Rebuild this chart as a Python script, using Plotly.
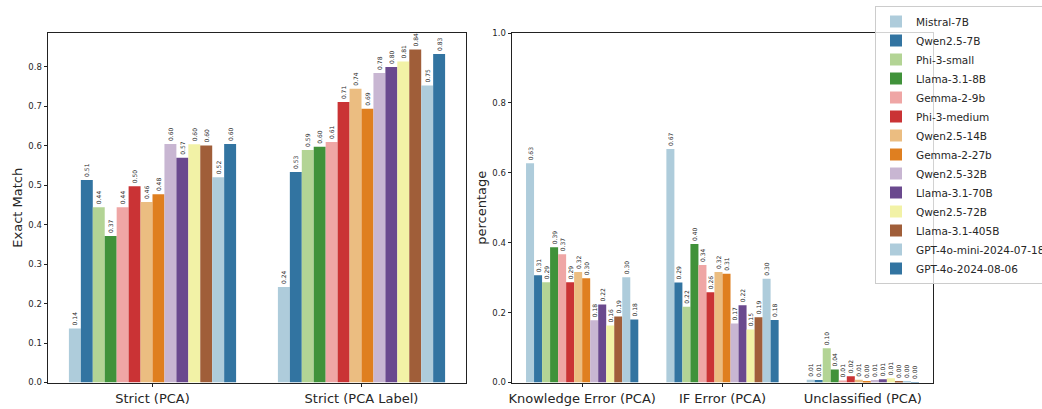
import colorsys
import plotly.graph_objects as go

# ---------------- data ----------------
models = [
    "Mistral-7B", "Qwen2.5-7B", "Phi-3-small", "Llama-3.1-8B", "Gemma-2-9b",
    "Phi-3-medium", "Qwen2.5-14B", "Gemma-2-27b", "Qwen2.5-32B", "Llama-3.1-70B",
    "Qwen2.5-72B", "Llama-3.1-405B", "GPT-4o-mini-2024-07-18", "GPT-4o-2024-08-06",
]
left_categories = ["Strict (PCA)", "Strict (PCA Label)"]
right_categories = ["Knowledge Error (PCA)", "IF Error (PCA)", "Unclassified (PCA)"]

strict_pca = [0.137, 0.513, 0.444, 0.371, 0.444, 0.497, 0.457, 0.477,
              0.604, 0.569, 0.603, 0.600, 0.520, 0.604]
strict_pca_label = [0.242, 0.533, 0.589, 0.597, 0.609, 0.710, 0.744, 0.693,
                    0.784, 0.799, 0.813, 0.843, 0.752, 0.832]
knowledge_error = [0.627, 0.307, 0.287, 0.387, 0.367, 0.287, 0.316, 0.298,
                   0.178, 0.223, 0.163, 0.189, 0.301, 0.180]
if_error = [0.668, 0.286, 0.217, 0.396, 0.336, 0.258, 0.316, 0.311,
            0.169, 0.221, 0.152, 0.187, 0.297, 0.179]
unclassified = [0.008, 0.007, 0.098, 0.037, 0.006, 0.018, 0.008, 0.003,
                0.007, 0.009, 0.012, 0.002, 0.002, 0.001]

left_ticks = [0.0, 0.1, 0.2, 0.3, 0.4, 0.5, 0.6, 0.7, 0.8]
right_ticks = [0.0, 0.2, 0.4, 0.6, 0.8, 1.0]

# ---------------- style ----------------
paired = ["#a6cee3", "#1f78b4", "#b2df8a", "#33a02c", "#fb9a99", "#e31a1c",
          "#fdbf6f", "#ff7f00", "#cab2d6", "#6a3d9a", "#ffff99", "#b15928"]


def desaturate(hexc, prop=0.75):
    r, g, b = (int(hexc[i:i + 2], 16) / 255 for i in (1, 3, 5))
    h, l, s = colorsys.rgb_to_hls(r, g, b)
    r, g, b = colorsys.hls_to_rgb(h, l, s * prop)
    return "#%02x%02x%02x" % (round(r * 255), round(g * 255), round(b * 255))


colors = [desaturate(paired[i % len(paired)]) for i in range(len(models))]

W, H = 1042, 409
FONT = "DejaVu Sans"
TXT = "#262626"
label_font = dict(size=6, color=TXT, family=FONT)

fig = go.Figure()
for i, m in enumerate(models):
    lv = [strict_pca[i], strict_pca_label[i]]
    fig.add_trace(go.Bar(
        x=left_categories, y=lv, name=m, xaxis="x", yaxis="y",
        marker=dict(color=colors[i], line=dict(width=0)),
        text=[f"{v:.2f}" for v in lv], textposition="outside", textangle=-90,
        textfont=label_font, outsidetextfont=label_font, constraintext="none",
        cliponaxis=False, showlegend=False, hoverinfo="x+y+name",
    ))
for i, m in enumerate(models):
    rv = [knowledge_error[i], if_error[i], unclassified[i]]
    fig.add_trace(go.Bar(
        x=right_categories, y=rv, name=m, xaxis="x2", yaxis="y2",
        marker=dict(color=colors[i], line=dict(width=0)),
        text=[f"{v:.2f}" for v in rv], textposition="outside", textangle=-90,
        textfont=label_font, outsidetextfont=label_font, constraintext="none",
        cliponaxis=False, showlegend=True, hoverinfo="x+y+name",
    ))

y_bot, y_top = 382.5, 33
ydom = [1 - y_bot / H, 1 - y_top / H]

axis_common = dict(
    showline=True, linecolor="#222", linewidth=1, mirror=True,
    ticks="outside", ticklen=3.5, tickwidth=0.8, tickcolor="#222",
    showgrid=False, zeroline=False,
)

fig.update_layout(
    width=W, height=H,
    margin=dict(l=0, r=0, t=0, b=0, autoexpand=False),
    paper_bgcolor="white", plot_bgcolor="white",
    font=dict(family=FONT, color=TXT),
    barmode="group", bargap=0.2, bargroupgap=0,
    xaxis=dict(domain=[48 / W, 466 / W], type="category", range=[-0.5, 1.5],
               tickfont=dict(size=13), anchor="y", **axis_common),
    yaxis=dict(domain=ydom, range=[0, 0.885], tickvals=left_ticks,
               ticktext=[f"{t:.1f}" for t in left_ticks], tickfont=dict(size=8.5),
               title=dict(text="Exact Match", font=dict(size=13), standoff=2),
               anchor="x", **axis_common),
    xaxis2=dict(domain=[512 / W, 933 / W], type="category", range=[-0.5, 2.5],
                tickfont=dict(size=13), anchor="y2", **axis_common),
    yaxis2=dict(domain=ydom, range=[0, 1.0], tickvals=right_ticks,
                ticktext=[f"{t:.1f}" for t in right_ticks], tickfont=dict(size=8.5),
                title=dict(text="percentage", font=dict(size=13), standoff=2),
                anchor="x2", **axis_common),
    legend=dict(
        x=875 / W, y=1 - 6 / H, xanchor="left", yanchor="top",
        bgcolor="rgba(255,255,255,0.8)", bordercolor="#cccccc", borderwidth=1,
        font=dict(size=10.5, family=FONT, color=TXT), tracegroupgap=0,
    ),
)

fig.write_html("out.html")
